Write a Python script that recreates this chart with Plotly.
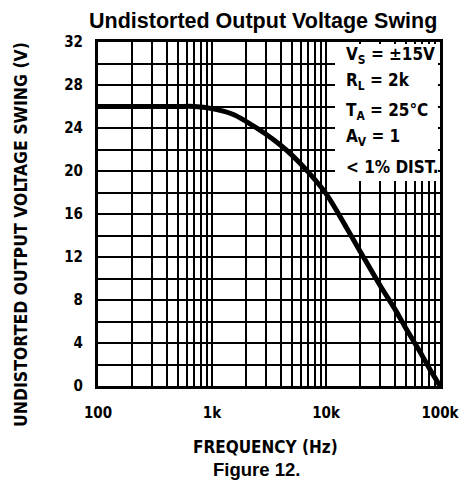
import plotly.graph_objects as go

freq_hz = [100, 200, 300, 500, 700, 1000, 1500, 2000, 3000, 4000, 5000, 7000,
           10000, 15000, 20000, 30000, 40000, 50000, 60000, 70000, 80000, 90000, 100000]
swing_v = [26.0, 26.0, 26.0, 26.0, 26.0, 25.8, 25.3, 24.6, 23.4, 22.4, 21.5, 19.9,
           17.9, 14.8, 12.5, 9.3, 7.2, 5.4, 4.0, 2.8, 1.7, 0.8, 0.0]

x_tick_vals = [100, 1000, 10000, 100000]
x_tick_text = ["100", "1k", "10k", "100k"]
y_tick_vals = [0, 4, 8, 12, 16, 20, 24, 28, 32]
y_tick_text = ["0", "4", "8", "12", "16", "20", "24", "28", "32"]

cond_font = "DejaVu Sans Condensed, Liberation Sans Narrow, Arial Narrow, sans-serif"
arial = "Liberation Sans, Arial, Helvetica, sans-serif"

fig = go.Figure()
fig.add_trace(go.Scatter(
    x=freq_hz, y=swing_v, mode="lines",
    line=dict(color="black", width=5, shape="spline", smoothing=1.0),
    hoverinfo="skip", showlegend=False,
))

fig.update_layout(
    width=462, height=486,
    margin=dict(l=98, r=22, t=42, b=100, autoexpand=False),
    paper_bgcolor="white", plot_bgcolor="white",
    font=dict(family=cond_font, color="black", size=15, weight="bold"),
    xaxis=dict(
        type="log", range=[2, 5], tickvals=x_tick_vals, ticktext=x_tick_text,
        showgrid=True, gridcolor="black", gridwidth=2,
        minor=dict(dtick="D1", showgrid=True, gridcolor="black", gridwidth=1.6, ticks=""),
        showline=True, linecolor="black", linewidth=3, mirror=True,
        ticks="", ticklabelstandoff=11, zeroline=False, automargin=False,
        tickfont=dict(family=cond_font, size=15, weight="bold"),
    ),
    yaxis=dict(
        range=[0, 32], tickvals=y_tick_vals, ticktext=y_tick_text,
        showgrid=True, gridcolor="black", gridwidth=1.6,
        minor=dict(dtick=2, tick0=0, showgrid=True, gridcolor="black", gridwidth=1.6, ticks=""),
        showline=True, linecolor="black", linewidth=3, mirror=True,
        ticks="", ticklabelstandoff=9, zeroline=False, automargin=False,
        tickfont=dict(family=cond_font, size=15, weight="bold"),
    ),
)

# white box covering grid in upper-right corner (curve never enters it)
fig.add_shape(type="rect", xref="paper", yref="paper",
              x0=0.693, x1=0.994, y0=0.596, y1=0.994,
              fillcolor="white", line=dict(width=0), layer="above")

cond_lines = [
    ("V<sub>S</sub> = ±15V", 0.962),
    ("R<sub>L</sub> = 2k", 0.884),
    ("T<sub>A</sub> = 25°C", 0.799),
    ("A<sub>V</sub> = 1", 0.721),
    ("< 1% DIST.", 0.637),
]
for txt, yy in cond_lines:
    fig.add_annotation(text=txt, xref="paper", yref="paper", x=0.720, y=yy,
                       xanchor="left", yanchor="middle", showarrow=False,
                       font=dict(family=cond_font, size=17, weight="bold"))

fig.add_annotation(text="Undistorted Output Voltage Swing", xref="paper", yref="paper",
                   x=0.483, y=1.0625, xanchor="center", yanchor="middle", showarrow=False,
                   font=dict(family=arial, size=21.5, weight="bold"))
fig.add_annotation(text="FREQUENCY (Hz)", xref="paper", yref="paper",
                   x=0.491, y=-0.177, xanchor="center", yanchor="middle", showarrow=False,
                   font=dict(family=cond_font, size=17, weight="bold"))
fig.add_annotation(text="Figure 12.", xref="paper", yref="paper",
                   x=0.462, y=-0.243, xanchor="center", yanchor="middle", showarrow=False,
                   font=dict(family=arial, size=18.5, weight="bold"))
fig.add_annotation(text="UNDISTORTED OUTPUT VOLTAGE SWING (V)", xref="paper", yref="paper",
                   x=-0.225, y=0.439, xanchor="center", yanchor="middle", showarrow=False,
                   textangle=-90,
                   font=dict(family=cond_font, size=17.5, weight="bold"))

fig.write_html("out.html",
               config={"displayModeBar": False},
               post_script="document.body.style.margin='0px';"
                           "document.documentElement.style.overflow='hidden';")
